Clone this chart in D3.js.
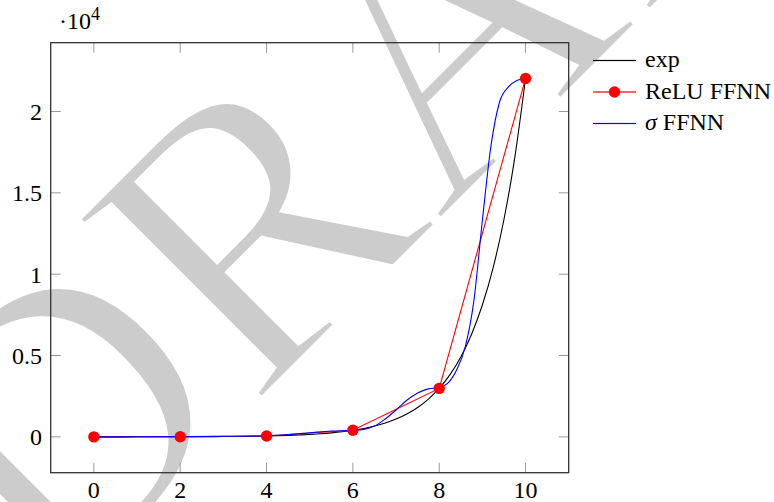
<!DOCTYPE html>
<html>
<head>
  <meta charset="UTF-8">
  <script src="https://d3js.org/d3.v7.min.js"></script>
</head>
<body style="margin:0;background:#fff">
  <svg id="chart"></svg>
<style>
  svg text { font-family: "Liberation Serif", "DejaVu Serif", "Times New Roman", serif; }
  .tick-label { font-size: 24px; fill: #000; }
  .legend-text { font-size: 24px; fill: #000; }
</style>
<script>
  // exp curve
  const expX = [0, 0.25, 0.5, 0.75, 1, 1.25, 1.5, 1.75, 2, 2.25, 2.5, 2.75, 3, 3.25, 3.5, 3.75, 4, 4.25, 4.5, 4.75,
                5, 5.25, 5.5, 5.75, 6, 6.25, 6.5, 6.75, 7, 7.25, 7.5, 7.75, 8, 8.25, 8.5, 8.75, 9, 9.25, 9.5, 9.75, 10];
  const expY = [1, 1.28, 1.65, 2.12, 2.72, 3.49, 4.48, 5.75, 7.39, 9.49, 12.2, 15.6, 20.1, 25.8, 33.1, 42.5, 54.6, 70.1, 90.0, 115.6,
                148.4, 190.6, 244.7, 314.2, 403.4, 518, 665, 854, 1097, 1408, 1808, 2322, 2981, 3828, 4915, 6311, 8103, 10405, 13360, 17154, 22026];

  // ReLU FFNN points
  const reluX = [0, 2, 4, 6, 8, 10];
  const reluY = [1, 7.4, 54.6, 403, 2981, 22026];

  // sigma FFNN curve
  const sigX = [0, 1, 2, 3, 4, 4.5, 5, 5.5, 6, 6.25, 6.5, 6.75, 7, 7.25, 7.5, 7.75, 8, 8.2, 8.4, 8.6, 8.8, 9.0, 9.2, 9.4, 9.6, 9.8, 10];
  const sigY = [0, 5, 12, 30, 70, 140, 250, 360, 400, 460, 660, 1100, 1650, 2250, 2700, 2950, 3030, 3300, 4100, 5500, 8300, 13300, 17900, 20600, 21500, 21900, 22026];

  const xTicks = [0, 2, 4, 6, 8, 10];
  const yTicks = [0, 5000, 10000, 15000, 20000];
  const yTickLabels = ['0', '0.5', '1', '1.5', '2'];

  const legendNames = ['exp', 'ReLU FFNN', 'σ FFNN'];
  const colors = ['#000000', '#ff0000', '#0000ff'];

  const width = 774, height = 502;
  const plot = { left: 50.7, right: 568.7, top: 42.7, bottom: 472.7 };

  const svg = d3.select('#chart').attr('width', width).attr('height', height);

  // draft watermark behind everything (white outline thins the strokes a bit)
  svg.append('text')
    .attr('transform', 'translate(50,612) rotate(-45)')
    .style('font-size', '395px')
    .attr('fill', '#cccccc')
    .attr('stroke', '#ffffff')
    .attr('stroke-width', 7)
    .text('DRAFT');

  const x = d3.scaleLinear().domain([-1, 11]).range([plot.left, plot.right]);
  const y = d3.scaleLinear().domain([-2202.6, 24228.6]).range([plot.bottom, plot.top]);

  svg.append('clipPath').attr('id', 'clip')
    .append('rect')
    .attr('x', plot.left).attr('y', plot.top)
    .attr('width', plot.right - plot.left).attr('height', plot.bottom - plot.top);

  // ticks on all four sides, pointing inward
  const tickLen = 10;
  const tg = svg.append('g').attr('stroke', '#999').attr('stroke-width', 1);
  xTicks.forEach(t => {
    tg.append('line').attr('x1', x(t)).attr('x2', x(t)).attr('y1', plot.bottom).attr('y2', plot.bottom - tickLen);
    tg.append('line').attr('x1', x(t)).attr('x2', x(t)).attr('y1', plot.top).attr('y2', plot.top + tickLen);
  });
  yTicks.forEach(t => {
    tg.append('line').attr('y1', y(t)).attr('y2', y(t)).attr('x1', plot.left).attr('x2', plot.left + tickLen);
    tg.append('line').attr('y1', y(t)).attr('y2', y(t)).attr('x1', plot.right).attr('x2', plot.right - tickLen);
  });

  // tick labels
  svg.append('g').selectAll('text').data(xTicks).join('text')
    .attr('class', 'tick-label')
    .attr('x', d => x(d)).attr('y', 498)
    .attr('text-anchor', 'middle')
    .text(d => d);
  svg.append('g').selectAll('text').data(yTicks).join('text')
    .attr('class', 'tick-label')
    .attr('x', 42).attr('y', d => y(d) + 8.5)
    .attr('text-anchor', 'end')
    .text((d, i) => yTickLabels[i]);

  // scale factor label
  const sf = svg.append('text').attr('class', 'tick-label').attr('x', 59).attr('y', 28.5);
  sf.append('tspan').text('·10');
  sf.append('tspan').attr('dy', -9).style('font-size', '18px').text('4');

  // lines
  const lineGen = d3.line().x(d => x(d[0])).y(d => y(d[1]));
  const plotLines = svg.append('g').attr('clip-path', 'url(#clip)').attr('fill', 'none').attr('stroke-width', 1.1);

  plotLines.append('path')
    .attr('d', lineGen.curve(d3.curveMonotoneX)(d3.zip(expX, expY)))
    .attr('stroke', colors[0]);
  plotLines.append('path')
    .attr('d', lineGen.curve(d3.curveLinear)(d3.zip(reluX, reluY)))
    .attr('stroke', colors[1]);
  plotLines.append('path')
    .attr('d', lineGen.curve(d3.curveMonotoneX)(d3.zip(sigX, sigY)))
    .attr('stroke', colors[2]);

  // markers
  svg.append('g').selectAll('circle').data(d3.zip(reluX, reluY)).join('circle')
    .attr('cx', d => x(d[0])).attr('cy', d => y(d[1])).attr('r', 5.7)
    .attr('fill', colors[1]);

  // frame
  svg.append('rect')
    .attr('x', plot.left).attr('y', plot.top)
    .attr('width', plot.right - plot.left).attr('height', plot.bottom - plot.top)
    .attr('fill', 'none').attr('stroke', '#333').attr('stroke-width', 1.3);

  // legend
  const lg = svg.append('g');
  legendNames.forEach((name, i) => {
    const ly = 60.5 + i * 31.5;
    lg.append('rect').attr('x', 593).attr('y', ly - 0.6).attr('width', 43).attr('height', 1.2)
      .attr('fill', colors[i]);
    if (i === 1) lg.append('circle').attr('cx', 614.5).attr('cy', ly).attr('r', 5.7).attr('fill', colors[1]);
    const t = lg.append('text').attr('class', 'legend-text').attr('x', 645).attr('y', ly + 6.5);
    if (i === 2) {
      t.append('tspan').style('font-style', 'italic').text('σ');
      t.append('tspan').text(' FFNN');
    } else {
      t.text(name);
    }
  });
</script>
</body>
</html>
